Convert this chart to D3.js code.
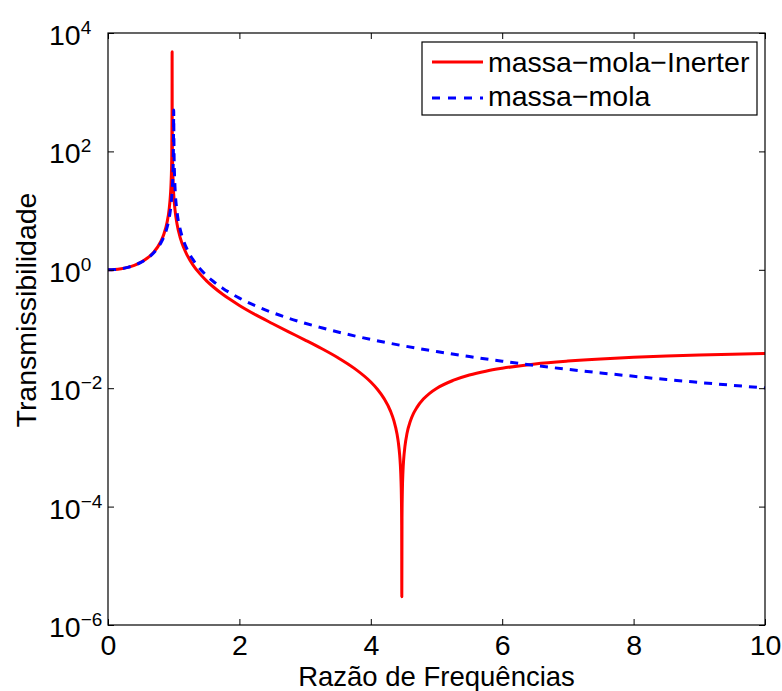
<!DOCTYPE html>
<html>
<head>
<meta charset="utf-8">
<script src="https://cdn.jsdelivr.net/npm/d3@7"></script>
<style>
    body { margin: 0; background: #fff; }
    text { font-family: "Liberation Sans", Arial, sans-serif; }
</style>
</head>
<body>
<div id="chart"></div>
<script>
// Razão de frequências (x) and transmissibility values
const inerterX = [0, 0.1, 0.2, 0.3, 0.4, 0.5, 0.6, 0.7, 0.8, 0.85, 0.9, 0.93, 0.95, 0.96, 0.97, 0.975, 0.9759,
    0.977, 0.98, 0.99, 1.0, 1.02, 1.05, 1.1, 1.15, 1.2, 1.3, 1.4, 1.5, 1.6, 1.75, 1.85, 2, 2.25, 2.5, 2.75, 3, 3.25,
    3.5, 3.75, 4, 4.1, 4.2, 4.3, 4.35, 4.4, 4.42, 4.44, 4.45, 4.46, 4.465, 4.47, 4.4721, 4.475, 4.48, 4.49, 4.5,
    4.52, 4.55, 4.6, 4.65, 4.7, 4.8, 4.9, 5, 5.25, 5.5, 5.75, 6, 6.5, 7, 7.5, 8, 8.5, 9, 9.5, 10];
const inerterT = [1, 1.01, 1.042, 1.099, 1.19, 1.34, 1.58, 2.01, 2.95, 3.99, 6.42, 10.4, 18.2, 29.5, 79, 516, 4800,
    422, 113, 32.7, 19, 10.3, 6.0, 3.47, 2.40, 1.81, 1.18, 0.853, 0.651, 0.517, 0.382, 0.32, 0.25, 0.173, 0.124, 0.0896, 0.0651, 0.0468,
    0.0327, 0.0216, 0.0127, 0.0096, 0.00673, 0.0041, 0.00286, 0.00166, 0.00119, 0.00073, 0.0005, 0.00027, 0.00016, 0.000048, 0.000003, 0.000064, 0.000175, 0.0004, 0.00062,
    0.00105, 0.0017, 0.00273, 0.00374, 0.0047, 0.00655, 0.00828, 0.0099, 0.0135, 0.0167, 0.0194, 0.0217, 0.0257, 0.0287, 0.0312, 0.0332, 0.0349, 0.0363, 0.0375, 0.0385];

const molaX = [0, 0.1, 0.2, 0.3, 0.4, 0.5, 0.6, 0.7, 0.8, 0.85, 0.9, 0.93, 0.95, 0.96, 0.97, 0.98, 0.99, 0.995, 0.998,
    1.0, 1.002, 1.005, 1.01, 1.02, 1.05, 1.1, 1.15, 1.2, 1.3, 1.4, 1.5, 1.6, 1.75, 1.85, 2, 2.25, 2.5, 2.75, 3, 3.25, 3.5,
    3.75, 4, 4.5, 5, 5.5, 6, 6.5, 7, 7.5, 8, 8.5, 9, 9.5, 10];
const molaT = [1, 1.01, 1.042, 1.099, 1.19, 1.333, 1.5625, 1.96, 2.78, 3.6, 5.26, 7.4, 10.26, 12.8, 16.9, 25.3, 50, 100, 250,
    500, 250, 100, 49.8, 24.8, 9.76, 4.76, 3.10, 2.27, 1.45, 1.04, 0.8, 0.641, 0.485, 0.413, 0.333, 0.246, 0.19, 0.152, 0.125, 0.105, 0.089,
    0.0766, 0.0667, 0.0519, 0.0417, 0.0342, 0.0286, 0.0242, 0.0208, 0.0181, 0.0159, 0.014, 0.0125, 0.0112, 0.0101];

const xTicks = [0, 2, 4, 6, 8, 10];
const yExponents = [-6, -4, -2, 0, 2, 4];
const seriesNames = ['massa\u2212mola\u2212Inerter', 'massa\u2212mola'];

const width = 782, height = 691;
const margin = { top: 33, right: 17, bottom: 66, left: 108 };
const innerW = width - margin.left - margin.right;
const innerH = height - margin.top - margin.bottom;
const fontSize = 28.5;

const svg = d3.select('#chart').append('svg')
    .attr('width', width)
    .attr('height', height);

const viz = svg.append('g')
    .attr('transform', `translate(${margin.left},${margin.top})`);

const xScale = d3.scaleLinear().domain([0, 10]).range([0, innerW]);
const yScale = d3.scaleLog().domain([1e-6, 1e4]).range([innerH, 0]);

viz.append('clipPath').attr('id', 'clip')
    .append('rect').attr('width', innerW).attr('height', innerH);

// Curves
const line = d3.line()
    .curve(d3.curveMonotoneX)
    .x(d => xScale(d[0]))
    .y(d => yScale(d[1]));

const plot = viz.append('g').attr('clip-path', 'url(#clip)');

plot.append('path')
    .datum(d3.zip(inerterX, inerterT))
    .attr('fill', 'none')
    .attr('stroke', '#ff0000')
    .attr('stroke-width', 3)
    .attr('stroke-linejoin', 'round')
    .attr('d', line);

plot.append('path')
    .datum(d3.zip(molaX, molaT))
    .attr('fill', 'none')
    .attr('stroke', '#0000ff')
    .attr('stroke-width', 3)
    .attr('stroke-dasharray', '8,7')
    .attr('d', line);

// Axes (MATLAB style box with inward ticks)
const yTickVals = yExponents.map(e => Math.pow(10, e));

const styleAxis = g => {
    g.select('.domain').remove();
    g.selectAll('line').attr('stroke', '#000').attr('stroke-width', 1);
};

viz.append('g')
    .attr('transform', `translate(0,${innerH})`)
    .call(d3.axisBottom(xScale).tickValues(xTicks).tickSizeInner(-6).tickSizeOuter(0).tickPadding(10))
    .call(styleAxis)
    .selectAll('text')
    .attr('font-size', fontSize)
    .attr('fill', '#000')
    .style('font-family', '"Liberation Sans", Arial, sans-serif');

viz.append('g')
    .call(d3.axisTop(xScale).tickValues(xTicks).tickSizeInner(-6).tickSizeOuter(0).tickFormat(''))
    .call(styleAxis);

viz.append('g')
    .call(d3.axisLeft(yScale).tickValues(yTickVals).tickSizeInner(-6).tickSizeOuter(0).tickFormat(''))
    .call(styleAxis);

viz.append('g')
    .attr('transform', `translate(${innerW},0)`)
    .call(d3.axisRight(yScale).tickValues(yTickVals).tickSizeInner(-6).tickSizeOuter(0).tickFormat(''))
    .call(styleAxis);

// y tick labels as 10^n
const yLabels = viz.append('g').selectAll('text')
    .data(yExponents)
    .join('text')
    .attr('x', -59)
    .attr('y', e => yScale(Math.pow(10, e)) + 12)
    .attr('font-size', fontSize)
    .attr('fill', '#000');
yLabels.append('tspan').text('10');
yLabels.append('tspan')
    .attr('dy', -11)
    .attr('font-size', 19)
    .text(e => e < 0 ? '\u2212' + Math.abs(e) : e);

// Frame
viz.append('rect')
    .attr('width', innerW)
    .attr('height', innerH)
    .attr('fill', 'none')
    .attr('stroke', '#000')
    .attr('stroke-width', 1.2);

// Axis titles
svg.append('text')
    .attr('x', margin.left + innerW / 2)
    .attr('y', 686)
    .attr('text-anchor', 'middle')
    .attr('font-size', 27.5)
    .text('Razão de Frequências');

svg.append('text')
    .attr('transform', 'translate(36,310) rotate(-90)')
    .attr('text-anchor', 'middle')
    .attr('font-size', fontSize)
    .text('Transmissibilidade');

// Legend
const legend = svg.append('g').attr('transform', 'translate(422,42)');
legend.append('rect')
    .attr('width', 335)
    .attr('height', 73)
    .attr('fill', '#fff')
    .attr('stroke', '#000')
    .attr('stroke-width', 1.2);

const legendItems = legend.selectAll('.item')
    .data(seriesNames)
    .join('g')
    .attr('class', 'item')
    .attr('transform', (d, i) => `translate(0,${20 + i * 36})`);

legendItems.append('line')
    .attr('x1', 10).attr('x2', 61)
    .attr('stroke', (d, i) => i === 0 ? '#ff0000' : '#0000ff')
    .attr('stroke-width', 3)
    .attr('stroke-dasharray', (d, i) => i === 0 ? null : '8,8');

legendItems.append('text')
    .attr('x', 66)
    .attr('y', (d, i) => 10 - i * 2)
    .attr('font-size', fontSize)
    .text(d => d);
</script>
</body>
</html>
